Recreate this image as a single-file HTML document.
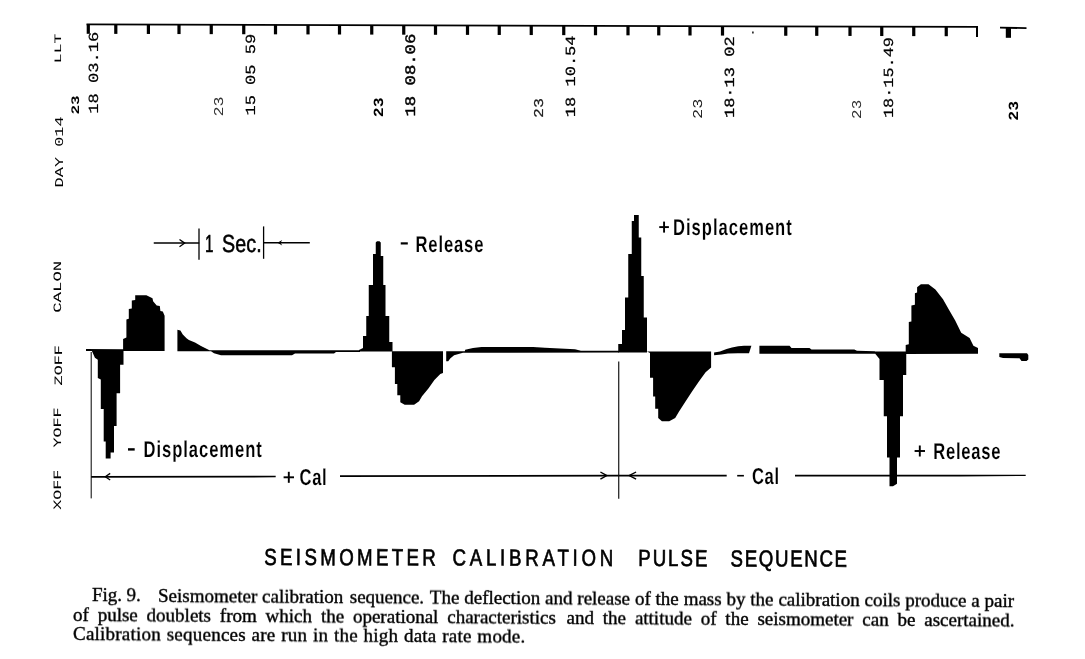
<!DOCTYPE html>
<html><head><meta charset="utf-8"><title>Seismometer calibration pulse sequence</title>
<style>
html,body{margin:0;padding:0;background:#fff;}
body{width:1085px;height:659px;overflow:hidden;position:relative;font-family:"Liberation Serif",serif;}
svg{position:absolute;left:0;top:0;}
svg,.cap{will-change:transform;}
svg text{text-rendering:geometricPrecision;}
svg polygon, svg rect{fill:#000;}
.cap{position:absolute;font-family:"Liberation Serif",serif;font-size:19px;line-height:20px;height:20px;color:#000;white-space:nowrap;-webkit-text-stroke:0.4px #000;transform-origin:0 80%;transform:rotate(0.34deg);}
</style></head><body>
<svg width="1085" height="659" viewBox="0 0 1085 659">
<line x1="86.5" y1="24.4" x2="978" y2="26.9" stroke="#000" stroke-width="1.8"/>
<rect x="86.70" y="24.41" width="3.2" height="9.4" />
<rect x="114.20" y="24.48" width="3.2" height="9.4" />
<rect x="146.80" y="24.57" width="3.2" height="9.4" />
<rect x="177.40" y="24.66" width="3.2" height="9.4" />
<rect x="209.65" y="24.75" width="3.2" height="9.4" />
<rect x="242.15" y="24.84" width="3.2" height="9.4" />
<rect x="273.90" y="24.93" width="3.2" height="9.4" />
<rect x="306.40" y="25.02" width="3.2" height="9.4" />
<rect x="337.90" y="25.11" width="3.2" height="9.4" />
<rect x="370.15" y="25.20" width="3.2" height="9.4" />
<rect x="402.15" y="25.29" width="3.2" height="9.4" />
<rect x="433.90" y="25.38" width="3.2" height="9.4" />
<rect x="465.90" y="25.47" width="3.2" height="9.4" />
<rect x="497.65" y="25.56" width="3.2" height="9.4" />
<rect x="529.65" y="25.65" width="3.2" height="9.4" />
<rect x="562.15" y="25.74" width="3.2" height="9.4" />
<rect x="593.90" y="25.83" width="3.2" height="9.4" />
<rect x="626.40" y="25.92" width="3.2" height="9.4" />
<rect x="657.15" y="26.00" width="3.2" height="9.4" />
<rect x="688.40" y="26.09" width="3.2" height="9.4" />
<rect x="720.90" y="26.18" width="3.2" height="9.4" />
<rect x="784.15" y="26.36" width="3.2" height="9.4" />
<rect x="815.15" y="26.45" width="3.2" height="9.4" />
<rect x="848.40" y="26.54" width="3.2" height="9.4" />
<rect x="880.15" y="26.63" width="3.2" height="9.4" />
<rect x="912.15" y="26.72" width="3.2" height="9.4" />
<rect x="944.65" y="26.81" width="3.2" height="9.4" />
<rect x="976" y="26.5" width="2" height="10.5"/>
<rect x="752.2" y="31.5" width="1.4" height="2"/>
<line x1="1000" y1="27.6" x2="1026.5" y2="28.2" stroke="#000" stroke-width="1.8"/>
<rect x="1005.8" y="27.5" width="5.2" height="10.3"/>
<text transform="translate(60.80,63.20) rotate(-90)" font-family="Liberation Mono, monospace" font-size="9.80" font-weight="normal" textLength="29.50" lengthAdjust="spacingAndGlyphs" fill="#000" stroke="#000" stroke-width="0.05">LLT</text>
<text transform="translate(62.60,187.40) rotate(-90)" font-family="Liberation Mono, monospace" font-size="12.00" font-weight="normal" textLength="71.00" lengthAdjust="spacingAndGlyphs" fill="#000" stroke="#000" stroke-width="0.00">DAY 014</text>
<text transform="translate(61.40,312.80) rotate(-90)" font-family="Liberation Mono, monospace" font-size="11.20" font-weight="normal" textLength="52.00" lengthAdjust="spacingAndGlyphs" fill="#000" stroke="#000" stroke-width="0.05">CALON</text>
<text transform="translate(61.60,385.40) rotate(-90)" font-family="Liberation Mono, monospace" font-size="11.20" font-weight="normal" textLength="40.20" lengthAdjust="spacingAndGlyphs" fill="#000" stroke="#000" stroke-width="0.05">ZOFF</text>
<text transform="translate(60.60,447.60) rotate(-90)" font-family="Liberation Mono, monospace" font-size="11.20" font-weight="normal" textLength="40.20" lengthAdjust="spacingAndGlyphs" fill="#000" stroke="#000" stroke-width="0.05">YOFF</text>
<text transform="translate(61.00,509.70) rotate(-90)" font-family="Liberation Mono, monospace" font-size="11.20" font-weight="normal" textLength="40.00" lengthAdjust="spacingAndGlyphs" fill="#000" stroke="#000" stroke-width="0.05">XOFF</text>
<text transform="translate(98.20,113.70) rotate(-90)" font-family="Liberation Mono, monospace" font-size="14.00" font-weight="normal" textLength="82.00" lengthAdjust="spacingAndGlyphs" fill="#000" stroke="#000" stroke-width="0.20">18 03.16</text>
<text transform="translate(79.20,114.50) rotate(-90)" font-family="Liberation Mono, monospace" font-size="11.50" font-weight="bold" textLength="19.20" lengthAdjust="spacingAndGlyphs" fill="#000" stroke="#000" stroke-width="0.00">23</text>
<text transform="translate(223.00,116.40) rotate(-90)" font-family="Liberation Mono, monospace" font-size="13.50" font-weight="normal" textLength="20.00" lengthAdjust="spacingAndGlyphs" fill="#333" stroke="#333" stroke-width="0.00">23</text>
<text transform="translate(255.10,115.60) rotate(-90)" font-family="Liberation Mono, monospace" font-size="14.00" font-weight="normal" textLength="81.90" lengthAdjust="spacingAndGlyphs" fill="#000" stroke="#000" stroke-width="0.20">15 05 59</text>
<text transform="translate(383.40,117.20) rotate(-90)" font-family="Liberation Mono, monospace" font-size="14.00" font-weight="bold" textLength="19.90" lengthAdjust="spacingAndGlyphs" fill="#000" stroke="#000" stroke-width="0.00">23</text>
<text transform="translate(415.00,116.50) rotate(-90)" font-family="Liberation Mono, monospace" font-size="14.50" font-weight="normal" textLength="82.80" lengthAdjust="spacingAndGlyphs" fill="#000" stroke="#000" stroke-width="0.45">18 08.06</text>
<text transform="translate(543.40,118.00) rotate(-90)" font-family="Liberation Mono, monospace" font-size="13.50" font-weight="normal" textLength="19.90" lengthAdjust="spacingAndGlyphs" fill="#222" stroke="#222" stroke-width="0.20">23</text>
<text transform="translate(575.40,117.30) rotate(-90)" font-family="Liberation Mono, monospace" font-size="14.00" font-weight="normal" textLength="81.90" lengthAdjust="spacingAndGlyphs" fill="#000" stroke="#000" stroke-width="0.25">18 10.54</text>
<text transform="translate(701.70,118.90) rotate(-90)" font-family="Liberation Mono, monospace" font-size="13.50" font-weight="normal" textLength="20.30" lengthAdjust="spacingAndGlyphs" fill="#222" stroke="#222" stroke-width="0.00">23</text>
<text transform="translate(734.30,118.10) rotate(-90)" font-family="Liberation Mono, monospace" font-size="14.00" font-weight="normal" textLength="81.90" lengthAdjust="spacingAndGlyphs" fill="#000" stroke="#000" stroke-width="0.30">18·13 02</text>
<text transform="translate(860.90,118.90) rotate(-90)" font-family="Liberation Mono, monospace" font-size="13.50" font-weight="normal" textLength="19.10" lengthAdjust="spacingAndGlyphs" fill="#333" stroke="#333" stroke-width="0.00">23</text>
<text transform="translate(893.40,118.10) rotate(-90)" font-family="Liberation Mono, monospace" font-size="14.00" font-weight="normal" textLength="81.00" lengthAdjust="spacingAndGlyphs" fill="#000" stroke="#000" stroke-width="0.20">18·15.49</text>
<text transform="translate(1017.50,120.70) rotate(-90)" font-family="Liberation Mono, monospace" font-size="14.00" font-weight="bold" textLength="19.90" lengthAdjust="spacingAndGlyphs" fill="#000" stroke="#000" stroke-width="0.00">23</text>
<polygon points="86.00,349.00 124.00,349.20 124.00,351.00 86.00,350.90" />
<polygon points="91.90,350.90 94.90,357.80 97.80,359.70 97.80,378.00 100.80,379.50 100.80,409.00 103.70,409.00 103.70,441.60 105.70,441.60 105.70,458.40 110.60,458.40 110.60,452.50 114.00,452.50 114.00,425.90 116.60,425.90 116.60,393.30 120.10,393.30 120.10,364.70 123.50,364.70 123.50,350.90" />
<polygon points="123.10,351.00 123.10,338.90 126.40,337.60 126.40,319.40 128.80,318.80 128.80,309.10 131.80,308.50 131.80,300.60 135.20,300.00 135.20,295.20 146.40,295.20 152.50,298.20 153.10,301.20 156.70,305.50 159.80,306.10 160.40,311.00 162.80,311.60 164.60,315.80 164.60,351.00" />
<polygon points="177.40,351.20 177.40,329.80 180.40,330.40 182.80,334.60 186.50,338.30 188.90,340.10 195.00,342.50 201.00,346.10 209.50,350.20 220.00,350.20 292.00,350.20 360.00,350.20 360.00,351.90 336.00,351.90 334.00,353.50 295.00,353.60 292.00,355.20 221.00,355.20 214.00,353.20 211.00,351.20" />
<polygon points="359.00,351.50 359.00,350.00 363.00,348.00 363.00,336.00 366.25,336.00 366.25,316.00 368.75,316.00 368.75,285.00 373.00,285.00 373.00,254.00 375.75,254.00 375.75,242.50 377.00,241.20 379.50,241.20 380.75,242.50 380.75,256.00 383.25,256.00 383.25,285.00 385.50,285.00 385.50,316.00 389.25,316.00 389.25,342.00 392.50,342.00 392.50,351.50" />
<polygon points="391.90,351.20 443.00,351.20 443.00,373.10 440.30,374.10 434.40,380.00 428.40,388.40 422.00,396.30 419.10,401.30 414.10,404.70 404.70,404.70 400.30,402.30 400.30,395.30 397.30,395.30 397.30,384.00 394.90,384.00 394.90,367.20 391.90,367.20" />
<polygon points="446.20,351.20 464.80,351.20 465.20,349.70 473.00,348.10 481.50,346.90 533.00,346.90 545.00,347.80 575.00,349.30 581.00,350.70 619.00,350.70 619.00,352.50 463.00,352.70 454.10,355.20 450.20,358.60 448.20,361.30 446.20,361.30" />
<polygon points="618.25,352.50 618.25,344.00 622.00,344.00 622.00,330.00 625.00,330.00 625.00,297.50 628.25,297.50 628.25,254.00 631.75,254.00 631.75,221.00 634.00,221.00 634.00,215.00 638.75,215.00 638.75,237.50 641.25,237.50 641.25,276.00 643.75,276.00 643.75,317.50 647.00,317.50 647.00,352.50" />
<polygon points="647.00,351.60 711.10,351.60 711.10,367.50 705.60,372.30 698.90,381.40 692.20,391.20 685.50,401.50 678.90,411.80 675.20,417.90 669.20,421.20 661.90,421.20 658.20,417.90 658.20,408.80 655.20,408.80 655.20,396.60 653.10,396.60 653.10,377.80 650.00,377.80 650.00,353.00" />
<polygon points="714.10,352.40 720.00,351.60 726.60,349.10 732.00,347.40 738.20,346.30 744.00,345.80 751.40,345.80 749.00,353.30 738.00,353.30 728.00,353.60 721.50,354.60 714.10,355.20" />
<polygon points="759.40,345.80 789.60,345.80 791.50,347.90 809.50,347.90 811.50,349.60 854.30,349.60 857.00,350.80 875.00,351.20 875.00,353.70 759.40,353.70" />
<polygon points="875.00,351.50 906.25,351.50 906.25,375.00 903.00,375.00 903.00,416.25 900.00,416.25 900.00,457.50 897.00,457.50 897.00,483.75 893.00,486.25 889.50,486.25 889.50,457.50 887.00,457.50 887.00,416.25 883.75,416.25 883.75,380.00 879.50,380.00 879.50,359.00 875.00,353.50" />
<polygon points="905.70,354.00 905.70,345.00 908.80,344.20 908.80,322.10 911.40,321.40 911.40,305.40 914.90,304.70 914.90,293.20 917.10,292.50 917.10,287.20 920.90,284.20 928.50,284.20 935.40,289.40 943.00,299.30 949.10,310.00 955.20,320.60 961.20,332.80 969.60,338.10 973.40,345.70 978.00,348.00 978.00,353.80" />
<polygon points="999.30,353.30 1027.00,353.30 1028.30,355.00 1028.30,359.50 1026.50,360.90 1021.50,360.90 1019.50,358.20 1003.00,358.00 999.30,357.00" />
<line x1="153.75" y1="243.10" x2="199.25" y2="243.10" stroke="#000" stroke-width="1.50"/>
<polyline points="179.50,239.50 184.70,243.10 179.50,246.70" fill="none" stroke="#000" stroke-width="1.30"/>
<line x1="199.00" y1="228.40" x2="199.00" y2="259.80" stroke="#000" stroke-width="1.30"/>
<line x1="263.60" y1="226.40" x2="263.60" y2="258.80" stroke="#000" stroke-width="1.30"/>
<line x1="263.25" y1="242.80" x2="309.80" y2="242.80" stroke="#000" stroke-width="1.50"/>
<polygon points="277.5,242.8 282.2,240.0 280.6,242.8 282.2,245.6"/>
<line x1="91.20" y1="352.00" x2="91.20" y2="498.40" stroke="#000" stroke-width="1.00"/>
<line x1="618.75" y1="361.50" x2="618.75" y2="498.80" stroke="#000" stroke-width="1.10"/>
<line x1="91.20" y1="476.80" x2="275.70" y2="476.50" stroke="#000" stroke-width="1.70"/>
<polyline points="110.20,473.40 105.30,476.70 110.20,480.00" fill="none" stroke="#000" stroke-width="1.30"/>
<line x1="340.00" y1="476.10" x2="618.75" y2="475.60" stroke="#000" stroke-width="1.70"/>
<polyline points="600.40,472.00 606.80,475.60 600.40,479.20" fill="none" stroke="#000" stroke-width="1.40"/>
<line x1="618.75" y1="475.60" x2="726.70" y2="475.70" stroke="#000" stroke-width="1.70"/>
<polyline points="636.10,472.00 629.20,475.60 636.10,479.20" fill="none" stroke="#000" stroke-width="1.40"/>
<polygon points="795.00,474.80 1025.70,474.85 1025.70,476.00 960.00,476.40 795.00,476.60" />
<rect x="128.00" y="448.20" width="6.70" height="2.40"/>
<text x="143.55" y="456.90" font-family="Liberation Sans, sans-serif" font-weight="bold" font-size="23.00" textLength="164.31" lengthAdjust="spacing" stroke="#fff" stroke-width="0.15" transform="translate(143.55 0) scale(0.720 1) translate(-143.55 0)" xml:space="preserve">Displacement</text>
<rect x="283.60" y="476.35" width="10.40" height="1.90"/>
<rect x="287.85" y="471.80" width="1.90" height="11.00"/>
<text x="299.50" y="485.30" font-family="Liberation Sans, sans-serif" font-weight="bold" font-size="23.00" textLength="37.78" lengthAdjust="spacing" stroke="#fff" stroke-width="0.15" transform="translate(299.50 0) scale(0.720 1) translate(-299.50 0)" xml:space="preserve">Cal</text>
<rect x="400.75" y="242.30" width="7.05" height="2.20"/>
<text x="415.55" y="251.70" font-family="Liberation Sans, sans-serif" font-weight="bold" font-size="23.00" textLength="94.17" lengthAdjust="spacing" stroke="#fff" stroke-width="0.15" transform="translate(415.55 0) scale(0.720 1) translate(-415.55 0)" xml:space="preserve">Release</text>
<rect x="659.25" y="226.15" width="9.65" height="1.90"/>
<rect x="663.12" y="221.60" width="1.90" height="11.00"/>
<text x="672.95" y="235.10" font-family="Liberation Sans, sans-serif" font-weight="bold" font-size="23.00" textLength="165.00" lengthAdjust="spacing" stroke="#fff" stroke-width="0.15" transform="translate(672.95 0) scale(0.720 1) translate(-672.95 0)" xml:space="preserve">Displacement</text>
<rect x="737.20" y="474.90" width="6.70" height="1.60"/>
<text x="751.90" y="484.40" font-family="Liberation Sans, sans-serif" font-weight="bold" font-size="23.00" textLength="37.64" lengthAdjust="spacing" stroke="#fff" stroke-width="0.15" transform="translate(751.90 0) scale(0.720 1) translate(-751.90 0)" xml:space="preserve">Cal</text>
<rect x="914.60" y="450.05" width="10.40" height="1.90"/>
<rect x="918.85" y="445.50" width="1.90" height="11.00"/>
<text x="933.15" y="458.90" font-family="Liberation Sans, sans-serif" font-weight="bold" font-size="23.00" textLength="93.47" lengthAdjust="spacing" stroke="#fff" stroke-width="0.15" transform="translate(933.15 0) scale(0.720 1) translate(-933.15 0)" xml:space="preserve">Release</text>
<text x="204.90" y="252.30" font-family="Liberation Sans, sans-serif" font-weight="normal" font-size="24.60" textLength="10.97" lengthAdjust="spacing" stroke="#000" stroke-width="0.55" transform="translate(204.90 0) scale(0.620 1) translate(-204.90 0)" xml:space="preserve">1</text>
<text x="222.00" y="252.30" font-family="Liberation Sans, sans-serif" font-weight="normal" font-size="24.60" textLength="49.75" lengthAdjust="spacing" stroke="#000" stroke-width="0.55" transform="translate(222.00 0) scale(0.800 1) translate(-222.00 0)" xml:space="preserve">Sec.</text>
<text x="264.20" y="565.00" font-family="Liberation Sans, sans-serif" font-size="23.3" textLength="214.50" lengthAdjust="spacing" stroke="#000" stroke-width="0.7" vector-effect="non-scaling-stroke" transform="rotate(0.150 264.20 565.00) translate(264.20 0) scale(0.8 1) translate(-264.20 0)">SEISMOMETER</text>
<text x="452.50" y="565.50" font-family="Liberation Sans, sans-serif" font-size="23.3" textLength="201.00" lengthAdjust="spacing" stroke="#000" stroke-width="0.7" vector-effect="non-scaling-stroke" transform="rotate(0.150 452.50 565.50) translate(452.50 0) scale(0.8 1) translate(-452.50 0)">CALIBRATION</text>
<text x="638.20" y="566.00" font-family="Liberation Sans, sans-serif" font-size="23.3" textLength="86.50" lengthAdjust="spacing" stroke="#000" stroke-width="0.7" vector-effect="non-scaling-stroke" transform="rotate(0.150 638.20 566.00) translate(638.20 0) scale(0.8 1) translate(-638.20 0)">PULSE</text>
<text x="730.60" y="566.40" font-family="Liberation Sans, sans-serif" font-size="23.3" textLength="145.50" lengthAdjust="spacing" stroke="#000" stroke-width="0.7" vector-effect="non-scaling-stroke" transform="rotate(0.150 730.60 566.40) translate(730.60 0) scale(0.8 1) translate(-730.60 0)">SEQUENCE</text>
</svg>
<div class="cap" style="left:92.00px;top:585.44px;word-spacing:-0.400px;letter-spacing:0.000px;">Fig. 9.</div>
<div class="cap" style="left:158.20px;top:585.84px;word-spacing:0.100px;letter-spacing:0.000px;">Seismometer calibration<span style="margin-left:1.6px"> sequence.</span><span style="margin-left:1.2px"> The</span> deflection and release of the mass by the calibration coils produce a pair</div>
<div class="cap" style="left:73.20px;top:605.09px;word-spacing:4.090px;letter-spacing:0.000px;">of pulse doublets from which the operational characteristics<span style="margin-left:1.8px"> and</span> the attitude of the seismometer can be ascertained.</div>
<div class="cap" style="left:73.20px;top:624.44px;word-spacing:0.750px;letter-spacing:0.230px;">Calibration sequences are run in the high data rate mode.</div>
</body></html>
